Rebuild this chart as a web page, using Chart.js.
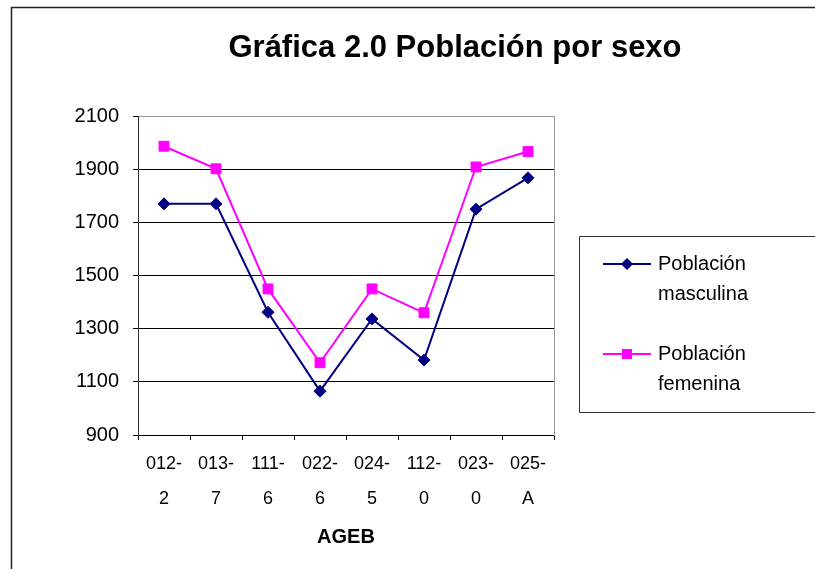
<!DOCTYPE html>
<html><head><meta charset="utf-8">
<script src="https://cdn.jsdelivr.net/npm/chart.js@4/dist/chart.umd.min.js"></script>
<style>html,body{margin:0;padding:0;background:#fff}canvas{display:block}</style>
</head><body>
<canvas id="c" width="815" height="569"></canvas>
<script>
const categories = [["012-","2"],["013-","7"],["111-","6"],["022-","6"],["024-","5"],["112-","0"],["023-","0"],["025-","A"]];
const poblacionMasculina = [1770,1770,1362,1065,1337,1182,1750,1868];
const poblacionFemenina = [1987,1902,1450,1172,1450,1360,1909,1967];
const yTicks = [900,1100,1300,1500,1700,1900,2100];
const seriesNames = ["Población masculina","Población femenina"];
const legendLines = [["Población","masculina"],["Población","femenina"]];
const titleText = "Gráfica 2.0 Población por sexo";
const axisTitle = "AGEB";

const FAMILY = '"Liberation Sans", Arial, sans-serif';
Chart.defaults.font.family = FAMILY;
Chart.defaults.color = '#000';

const frameAndLegend = {
  id: 'frameAndLegend',
  afterDraw(chart) {
    const ctx = chart.ctx;
    ctx.save();
    // outer frame (left & top visible)
    ctx.strokeStyle = '#222'; ctx.lineWidth = 1.5;
    ctx.beginPath(); ctx.moveTo(11.5, 569); ctx.lineTo(11.5, 7.5); ctx.lineTo(815, 7.5); ctx.stroke();
    // legend box
    ctx.lineWidth = 1; ctx.strokeStyle = '#333';
    ctx.beginPath(); ctx.moveTo(815, 236.5); ctx.lineTo(579.5, 236.5); ctx.lineTo(579.5, 412.5); ctx.lineTo(815, 412.5); ctx.stroke();
    const ys = [264, 354];
    chart.data.datasets.forEach((ds, i) => {
      const y0 = ys[i];
      ctx.strokeStyle = ds.borderColor; ctx.lineWidth = 2;
      ctx.beginPath(); ctx.moveTo(603, y0); ctx.lineTo(651, y0); ctx.stroke();
      ctx.fillStyle = ds.pointBackgroundColor;
      ctx.beginPath();
      if (ds.pointStyle === 'rectRot') {
        const r = 6;
        ctx.moveTo(627, y0 - r); ctx.lineTo(627 + r, y0); ctx.lineTo(627, y0 + r); ctx.lineTo(627 - r, y0); ctx.closePath();
      } else {
        ctx.rect(622, y0 - 5, 10, 10);
      }
      ctx.fill();
      ctx.fillStyle = '#000';
      ctx.font = '20px ' + FAMILY;
      ctx.textBaseline = 'middle'; ctx.textAlign = 'left';
      legendLines[i].forEach((t, j) => ctx.fillText(t, 658, y0 + j * 30));
    });
    ctx.restore();
  }
};

new Chart(document.getElementById('c'), {
  type: 'line',
  data: {
    labels: categories,
    datasets: [
      { label: seriesNames[0], data: poblacionMasculina, borderColor: '#000080', backgroundColor: '#000080',
        pointBackgroundColor: '#000080', pointBorderColor: '#000080', pointStyle: 'rectRot', pointRadius: 6,
        pointBorderWidth: 1, borderWidth: 2, tension: 0 },
      { label: seriesNames[1], data: poblacionFemenina, borderColor: '#FF00FF', backgroundColor: '#FF00FF',
        pointBackgroundColor: '#FF00FF', pointBorderColor: '#FF00FF', pointStyle: 'rect', pointRadius: 7,
        pointBorderWidth: 1, borderWidth: 2, tension: 0 }
    ]
  },
  options: {
    responsive: false, animation: false, devicePixelRatio: 1,
    layout: { padding: { left: 0, right: -95, top: 0, bottom: 0 } },
    plugins: {
      legend: { display: false },
      tooltip: { enabled: false },
      title: { display: true, text: titleText, color: '#000',
        font: { size: 31, weight: 'bold', family: FAMILY }, padding: { top: 30, bottom: 49 } }
    },
    scales: {
      x: {
        type: 'category', offset: true,
        grid: { offset: true, drawOnChartArea: false, drawTicks: true, tickLength: 5, color: '#000' },
        border: { color: '#000', width: 1 },
        ticks: { font: { size: 18, lineHeight: '35px' }, color: '#000', padding: 7, maxRotation: 0, autoSkip: false },
        title: { display: true, text: axisTitle, color: '#000', font: { size: 20, weight: 'bold' }, padding: { top: 0, bottom: 20 } },
        afterFit(s) { s.height = 134; }
      },
      y: {
        min: 900, max: 2100,
        afterBuildTicks(s) { s.ticks = yTicks.map(v => ({ value: v })); },
        grid: { color: c => (c.tick && c.tick.value === 2100) ? '#999' : '#000', tickColor: '#000', tickLength: 5, lineWidth: 1 },
        border: { color: '#333', width: 1 },
        ticks: { font: { size: 20 }, color: '#000', padding: 14, callback: v => String(v) },
        afterFit(s) { s.width = 138; }
      },
      y2: {
        position: 'right', display: true,
        grid: { display: false, drawOnChartArea: false },
        ticks: { display: false },
        border: { display: true, color: '#999', width: 1 },
        afterFit(s) { s.width = 356; }
      }
    }
  },
  plugins: [frameAndLegend]
});
</script>
</body></html>
